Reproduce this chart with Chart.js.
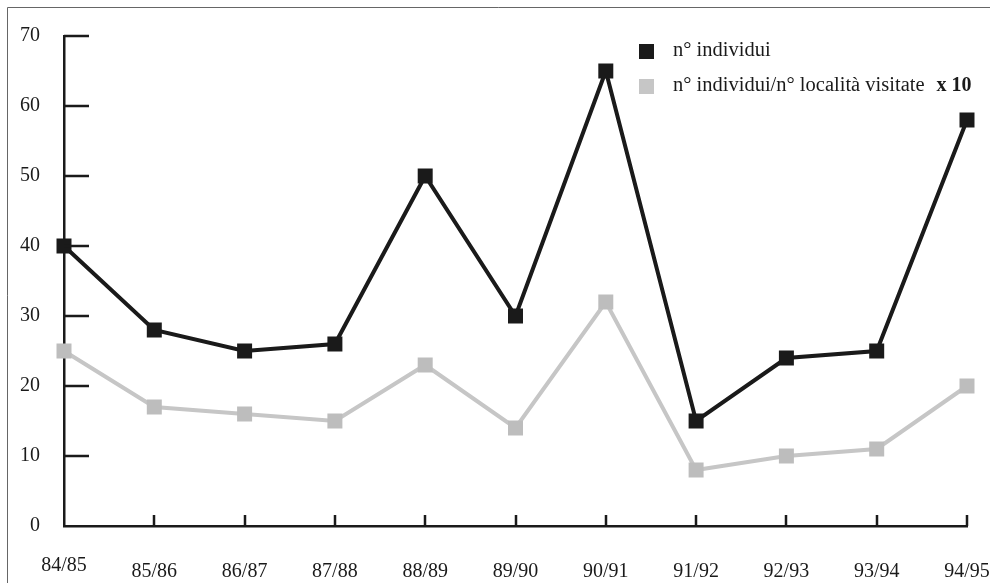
<!DOCTYPE html>
<html>
<head>
<meta charset="utf-8">
<script src="https://cdn.jsdelivr.net/npm/chart.js@4/dist/chart.umd.min.js"></script>
<style>
  html, body { margin: 0; padding: 0; background: #fff; }
  #wrap { width: 991px; height: 583px; position: relative; }
</style>
</head>
<body>
<div id="wrap"><canvas id="chart"></canvas></div>
<script>
// stagioni
const seasons = ['84/85','85/86','86/87','87/88','88/89','89/90','90/91','91/92','92/93','93/94','94/95'];
const individui = [40, 28, 25, 26, 50, 30, 65, 15, 24, 25, 58];
const perLocalita = [25, 17, 16, 15, 23, 14, 32, 8, 10, 11, 20];
const yTicks = [0, 10, 20, 30, 40, 50, 60, 70];
const seriesNames = ['n° individui', 'n° individui/n° località visitate'];
const seriesSuffix = ['', 'x 10'];

const BLACK = '#1a1a1a';
const GREY = '#c6c6c6';
const SERIF = '"Liberation Serif", "DejaVu Serif", serif';

// frame + inward ticks + staggered x labels + legend
const decor = {
  id: 'decor',
  beforeDraw(chart) {
    const c = chart.ctx;
    c.save();
    c.strokeStyle = '#666';
    c.lineWidth = 1;
    c.beginPath();
    c.moveTo(7.5, 600); c.lineTo(7.5, 7.5); c.lineTo(990, 7.5);
    c.stroke();
    c.restore();
  },
  afterDraw(chart) {
    const c = chart.ctx;
    const xs = chart.scales.x, ys = chart.scales.y;
    const x0 = xs.left, y0 = ys.bottom;
    c.save();
    c.strokeStyle = BLACK;
    c.lineWidth = 2.5;
    c.beginPath();
    yTicks.forEach(v => {
      const y = Math.round(ys.getPixelForValue(v));
      if (v === 0) return;
      c.moveTo(x0, y); c.lineTo(x0 + 25, y);
    });
    seasons.forEach((s, i) => {
      if (i === 0) return;
      const x = Math.round(xs.getPixelForValue(i));
      c.moveTo(x, y0); c.lineTo(x, y0 - 11);
    });
    c.stroke();

    c.fillStyle = BLACK;
    c.font = '20px ' + SERIF;
    c.textAlign = 'center';
    c.textBaseline = 'middle';
    seasons.forEach((s, i) => {
      let x = xs.getPixelForValue(i);
      if (i === seasons.length - 1) x = Math.min(x, 991 - 24);
      c.fillText(s, x, i === 0 ? 566 : 572);
    });

    // legend
    const colors = [BLACK, GREY];
    const rows = [51, 86];
    c.textAlign = 'left';
    c.textBaseline = 'alphabetic';
    seriesNames.forEach((name, i) => {
      c.fillStyle = colors[i];
      c.fillRect(639, rows[i] - 7, 15, 15);
      c.fillStyle = BLACK;
      c.font = '20.5px ' + SERIF;
      c.fillText(name, 673, rows[i] + 5);
      if (seriesSuffix[i]) {
        const w = c.measureText(name).width;
        c.font = 'bold 20px ' + SERIF;
        c.fillText(seriesSuffix[i], 673 + w + 12, rows[i] + 5);
      }
    });
    c.restore();
  }
};

new Chart(document.getElementById('chart'), {
  type: 'line',
  data: {
    labels: seasons,
    datasets: [
      {
        label: seriesNames[0],
        data: individui,
        borderColor: BLACK,
        backgroundColor: BLACK,
        borderWidth: 4,
        pointStyle: 'rect',
        pointRadius: 10.6,
        pointBorderWidth: 0,
        tension: 0
      },
      {
        label: seriesNames[1],
        data: perLocalita,
        borderColor: GREY,
        backgroundColor: '#bdbdbd',
        borderWidth: 4,
        pointStyle: 'rect',
        pointRadius: 10.6,
        pointBorderWidth: 0,
        tension: 0
      }
    ]
  },
  options: {
    responsive: true,
    maintainAspectRatio: false,
    animation: false,
    layout: { padding: { top: 32, right: 24, bottom: 0, left: 0 } },
    plugins: { legend: { display: false }, tooltip: { enabled: false } },
    scales: {
      x: {
        offset: false,
        grid: { display: false, drawTicks: false },
        border: { display: true, color: BLACK, width: 2.5 },
        ticks: { display: false },
        afterFit(s) { s.height = 57; }
      },
      y: {
        min: 0, max: 70,
        afterBuildTicks(s) { s.ticks = yTicks.map(v => ({ value: v })); },
        grid: { display: false, drawTicks: false },
        border: { display: true, color: BLACK, width: 2.5 },
        ticks: {
          color: BLACK,
          padding: 24,
          font: { family: SERIF, size: 20 }
        },
        afterFit(s) { s.width = 64; }
      }
    }
  },
  plugins: [decor]
});
</script>
</body>
</html>
